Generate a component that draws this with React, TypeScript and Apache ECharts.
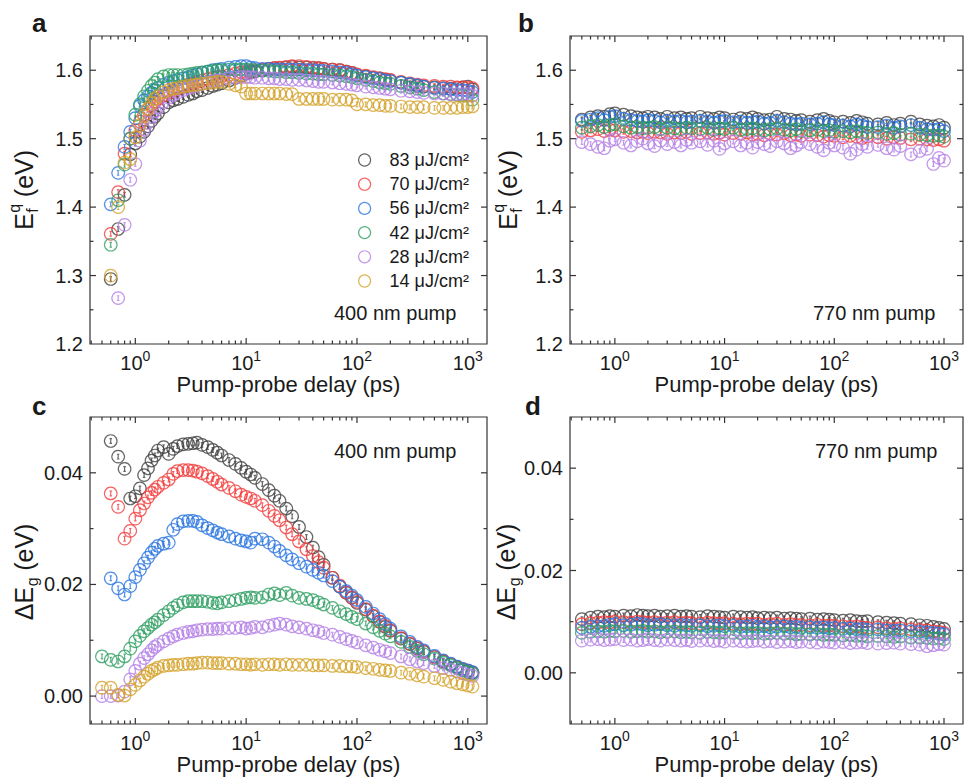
import React, { useEffect, useRef } from "react";
import * as echarts from "echarts";

const FONT = "'Liberation Sans', Arial, Helvetica, sans-serif";
const AXIS_COLOR = "#333333";
const TEXT_COLOR = "#1a1a1a";

const FLUENCES = ["83 μJ/cm²", "70 μJ/cm²", "56 μJ/cm²", "42 μJ/cm²", "28 μJ/cm²", "14 μJ/cm²"];
const COLORS = ["#404040", "#f23d3d", "#2b76e0", "#2f9f63", "#b47fe6", "#d4a22a"];

// pump-probe delays (ps), 400 nm pump (panels a, c)
const DELAY_400 = [0.5, 0.6, 0.7, 0.8, 0.9, 1.0, 1.1, 1.2, 1.3, 1.4, 1.5, 1.6, 1.8, 2.0, 2.2, 2.4, 2.7, 3.0, 3.3, 3.6, 4.0, 4.5, 5, 5.5, 6, 7, 8, 9, 10, 11, 12, 14, 16, 18, 20, 23, 26, 30, 35, 40, 45, 50, 60, 70, 80, 90, 100, 120, 140, 160, 180, 200, 250, 300, 350, 400, 500, 600, 700, 800, 900, 1000, 1100];

// panel a: E_f^q (eV), 400 nm pump
const EF400_83 = [null, 1.295, 1.368, 1.418, 1.477, 1.493, 1.503, 1.51, 1.518, 1.526, 1.532, 1.537, 1.546, 1.553, 1.556, 1.558, 1.561, 1.564, 1.566, 1.569, 1.571, 1.574, 1.577, 1.579, 1.581, 1.585, 1.589, 1.592, 1.595, 1.597, 1.598, 1.6, 1.602, 1.603, 1.603, 1.604, 1.605, 1.604, 1.604, 1.603, 1.603, 1.602, 1.601, 1.6, 1.598, 1.596, 1.593, 1.591, 1.589, 1.588, 1.586, 1.585, 1.582, 1.579, 1.577, 1.576, 1.575, 1.574, 1.573, 1.574, 1.575, 1.576, 1.572];
const EF400_70 = [null, 1.361, 1.422, 1.478, 1.5, 1.512, 1.525, 1.535, 1.543, 1.549, 1.554, 1.558, 1.563, 1.567, 1.57, 1.573, 1.576, 1.579, 1.581, 1.583, 1.585, 1.587, 1.589, 1.59, 1.591, 1.593, 1.595, 1.597, 1.598, 1.599, 1.6, 1.601, 1.602, 1.603, 1.604, 1.605, 1.606, 1.606, 1.605, 1.604, 1.603, 1.602, 1.601, 1.6, 1.598, 1.596, 1.594, 1.592, 1.59, 1.588, 1.587, 1.586, 1.583, 1.581, 1.579, 1.578, 1.577, 1.576, 1.576, 1.575, 1.575, 1.575, 1.574];
const EF400_56 = [null, 1.404, 1.45, 1.488, 1.51, 1.53, 1.548, 1.556, 1.562, 1.567, 1.571, 1.574, 1.579, 1.582, 1.584, 1.586, 1.588, 1.59, 1.592, 1.594, 1.596, 1.598, 1.6, 1.601, 1.602, 1.604, 1.605, 1.606, 1.606, 1.604, 1.603, 1.602, 1.602, 1.601, 1.601, 1.601, 1.601, 1.601, 1.6, 1.6, 1.599, 1.599, 1.598, 1.597, 1.596, 1.594, 1.592, 1.59, 1.588, 1.587, 1.585, 1.584, 1.582, 1.58, 1.578, 1.576, 1.574, 1.573, 1.572, 1.571, 1.571, 1.57, 1.568];
const EF400_42 = [null, 1.345, 1.41, 1.462, 1.5, 1.535, 1.55, 1.562, 1.57, 1.577, 1.582, 1.587, 1.591, 1.593, 1.593, 1.593, 1.593, 1.594, 1.595, 1.596, 1.597, 1.598, 1.599, 1.6, 1.6, 1.601, 1.601, 1.601, 1.601, 1.6, 1.6, 1.599, 1.599, 1.598, 1.598, 1.597, 1.597, 1.596, 1.595, 1.595, 1.594, 1.594, 1.593, 1.592, 1.591, 1.59, 1.588, 1.586, 1.584, 1.582, 1.581, 1.58, 1.577, 1.575, 1.573, 1.571, 1.568, 1.566, 1.565, 1.564, 1.563, 1.563, 1.557];
const EF400_28 = [null, null, 1.267, 1.374, 1.44, 1.463, 1.497, 1.513, 1.523, 1.532, 1.54, 1.546, 1.554, 1.56, 1.564, 1.567, 1.571, 1.574, 1.576, 1.578, 1.58, 1.582, 1.584, 1.585, 1.586, 1.588, 1.589, 1.59, 1.59, 1.59, 1.589, 1.589, 1.588, 1.588, 1.587, 1.587, 1.586, 1.586, 1.585, 1.584, 1.583, 1.583, 1.582, 1.581, 1.58, 1.579, 1.578, 1.576, 1.575, 1.574, 1.573, 1.572, 1.57, 1.569, 1.568, 1.567, 1.566, 1.566, 1.565, 1.565, 1.565, 1.565, 1.563];
const EF400_14 = [null, 1.3, 1.4, 1.465, 1.47, 1.502, 1.52, 1.533, 1.544, 1.552, 1.558, 1.562, 1.568, 1.571, 1.573, 1.574, 1.576, 1.577, 1.578, 1.579, 1.58, 1.581, 1.582, 1.583, 1.583, 1.58, 1.578, 1.576, 1.566, 1.566, 1.566, 1.566, 1.566, 1.566, 1.566, 1.565, 1.565, 1.558, 1.558, 1.558, 1.558, 1.558, 1.557, 1.557, 1.557, 1.556, 1.55, 1.55, 1.549, 1.549, 1.548, 1.548, 1.547, 1.546, 1.546, 1.546, 1.545, 1.545, 1.545, 1.545, 1.546, 1.546, 1.547];

// panel c: ΔE_g (eV), 400 nm pump
const DEG400_83 = [null, 0.0457, 0.0429, 0.0407, 0.0354, 0.0358, 0.0372, 0.0396, 0.0408, 0.0422, 0.0431, 0.044, 0.0446, 0.0434, 0.0443, 0.0448, 0.0451, 0.0452, 0.0453, 0.0454, 0.045, 0.0446, 0.0441, 0.0436, 0.0431, 0.0423, 0.0416, 0.0409, 0.0402, 0.0397, 0.0391, 0.038, 0.0369, 0.0359, 0.035, 0.0336, 0.0322, 0.0303, 0.0285, 0.0266, 0.0249, 0.0235, 0.0212, 0.0196, 0.0185, 0.0176, 0.0167, 0.0155, 0.0143, 0.0133, 0.0124, 0.0117, 0.0103, 0.0093, 0.0085, 0.0079, 0.007, 0.0062, 0.0057, 0.0052, 0.0048, 0.0045, 0.0042];
const DEG400_70 = [null, 0.0363, 0.0339, 0.0282, 0.0296, 0.0318, 0.0333, 0.0345, 0.0356, 0.0364, 0.037, 0.0375, 0.0382, 0.0388, 0.0398, 0.0403, 0.0405, 0.0405, 0.0404, 0.0402, 0.0399, 0.0394, 0.0389, 0.0384, 0.0379, 0.0373, 0.0367, 0.0361, 0.0357, 0.0354, 0.035, 0.0342, 0.0332, 0.0323, 0.0315, 0.0302, 0.029, 0.0277, 0.0263, 0.0251, 0.024, 0.023, 0.0212, 0.0198, 0.0186, 0.0177, 0.0169, 0.0156, 0.0144, 0.0134, 0.0126, 0.0118, 0.0104, 0.0094, 0.0086, 0.008, 0.007, 0.0063, 0.0057, 0.0052, 0.0048, 0.0045, 0.0042];
const DEG400_56 = [null, 0.0211, 0.0193, 0.0182, 0.0197, 0.0213, 0.0226, 0.0238, 0.0248, 0.0257, 0.0264, 0.0269, 0.0273, 0.0275, 0.0298, 0.0308, 0.0313, 0.0314, 0.0314, 0.0312, 0.0306, 0.0301, 0.0297, 0.0293, 0.029, 0.0286, 0.0282, 0.0279, 0.0277, 0.0275, 0.0282, 0.0281, 0.0275, 0.0268, 0.026, 0.0252, 0.0245, 0.0238, 0.0232, 0.0226, 0.0221, 0.0216, 0.0206, 0.0196, 0.0188, 0.018, 0.0172, 0.016, 0.0148, 0.0138, 0.0129, 0.0121, 0.0107, 0.0097, 0.0088, 0.0082, 0.0072, 0.0064, 0.0058, 0.0053, 0.0049, 0.0046, 0.0043];
const DEG400_42 = [0.0071, 0.0065, 0.0062, 0.0071, 0.0085, 0.0098, 0.0108, 0.0116, 0.0122, 0.0128, 0.0132, 0.0137, 0.0145, 0.0152, 0.0158, 0.0163, 0.0168, 0.017, 0.017, 0.017, 0.017, 0.0169, 0.0167, 0.0166, 0.0168, 0.017, 0.0172, 0.0174, 0.0176, 0.0177, 0.0176, 0.0177, 0.0182, 0.0184, 0.0181, 0.0185, 0.018, 0.0176, 0.0174, 0.0172, 0.0168, 0.0164, 0.0158, 0.0152, 0.0147, 0.0142, 0.0138, 0.013, 0.0123, 0.0117, 0.0112, 0.0107, 0.0097, 0.0088, 0.0081, 0.0075, 0.0067, 0.006, 0.0055, 0.005, 0.0046, 0.0043, 0.004];
const DEG400_28 = [0.0, 0.0, 0.0001, 0.0008, 0.003, 0.0045, 0.0058, 0.0068, 0.0075, 0.0082, 0.0088, 0.0092, 0.0098, 0.0103, 0.0107, 0.011, 0.0113, 0.0115, 0.0116, 0.0118, 0.0119, 0.012, 0.012, 0.0121, 0.0121, 0.0122, 0.0122, 0.0123, 0.0121, 0.0122, 0.0124, 0.0123, 0.0126, 0.0128, 0.013, 0.0128, 0.0125, 0.0123, 0.0121, 0.0118, 0.0116, 0.0113, 0.011, 0.0106, 0.0102, 0.0099, 0.0096, 0.0091, 0.0087, 0.0083, 0.008, 0.0077, 0.0071, 0.0066, 0.0062, 0.0059, 0.0054, 0.005, 0.0047, 0.0044, 0.0041, 0.0038, 0.0036];
const DEG400_14 = [0.0015, 0.0015, 0.0002, 0.0001, 0.0012, 0.002, 0.0028, 0.0035, 0.004, 0.0045, 0.0048, 0.0051, 0.0054, 0.0055, 0.0056, 0.0056, 0.0057, 0.0058, 0.0058, 0.0059, 0.006, 0.006, 0.0059, 0.0059, 0.0059, 0.0058, 0.0058, 0.0057, 0.0057, 0.0056, 0.0057, 0.0056, 0.0057, 0.0057, 0.0056, 0.0057, 0.0056, 0.0056, 0.0056, 0.0055, 0.0055, 0.0055, 0.0054, 0.0054, 0.0053, 0.0053, 0.0052, 0.005, 0.0049, 0.0047, 0.0046, 0.0045, 0.0042, 0.004, 0.0037, 0.0035, 0.0032, 0.0029, 0.0026, 0.0023, 0.0021, 0.0019, 0.0017];

// pump-probe delays (ps), 770 nm pump (panels b, d)
const DELAY_770 = [0.5, 0.6, 0.7, 0.8, 0.9, 1.0, 1.2, 1.4, 1.6, 1.8, 2, 2.3, 2.6, 3, 3.5, 4, 4.5, 5, 6, 7, 8, 9, 10, 12, 14, 16, 18, 20, 23, 26, 30, 35, 40, 45, 50, 60, 70, 80, 90, 100, 120, 140, 160, 180, 200, 250, 300, 350, 400, 500, 600, 700, 800, 900, 1000];

// panel b: E_f^q (eV), 770 nm pump
const EF770_83 = [1.528, 1.531, 1.533, 1.532, 1.536, 1.537, 1.535, 1.533, 1.531, 1.53, 1.532, 1.531, 1.529, 1.532, 1.53, 1.531, 1.529, 1.53, 1.532, 1.53, 1.529, 1.531, 1.53, 1.528, 1.53, 1.529, 1.531, 1.529, 1.527, 1.528, 1.532, 1.529, 1.528, 1.526, 1.527, 1.525, 1.527, 1.529, 1.526, 1.524, 1.525, 1.523, 1.526, 1.524, 1.522, 1.521, 1.523, 1.52, 1.522, 1.525, 1.521, 1.519, 1.518, 1.52, 1.516];
const EF770_70 = [1.51, 1.512, 1.514, 1.511, 1.513, 1.512, 1.51, 1.511, 1.509, 1.51, 1.508, 1.51, 1.509, 1.507, 1.509, 1.508, 1.51, 1.507, 1.508, 1.509, 1.507, 1.508, 1.506, 1.508, 1.507, 1.509, 1.506, 1.507, 1.505, 1.507, 1.506, 1.508, 1.505, 1.506, 1.504, 1.506, 1.505, 1.503, 1.505, 1.504, 1.502, 1.504, 1.503, 1.501, 1.503, 1.502, 1.5, 1.502, 1.501, 1.499, 1.5, 1.499, 1.498, 1.499, 1.497];
const EF770_56 = [1.526, 1.528, 1.53, 1.527, 1.532, 1.533, 1.529, 1.527, 1.526, 1.525, 1.527, 1.526, 1.524, 1.526, 1.525, 1.526, 1.524, 1.525, 1.526, 1.525, 1.523, 1.525, 1.526, 1.524, 1.525, 1.523, 1.524, 1.525, 1.522, 1.523, 1.526, 1.524, 1.522, 1.521, 1.522, 1.521, 1.522, 1.524, 1.521, 1.52, 1.519, 1.518, 1.521, 1.519, 1.517, 1.517, 1.519, 1.516, 1.518, 1.52, 1.516, 1.514, 1.513, 1.514, 1.511];
const EF770_42 = [1.516, 1.518, 1.52, 1.517, 1.52, 1.521, 1.518, 1.516, 1.517, 1.515, 1.516, 1.517, 1.514, 1.516, 1.515, 1.514, 1.516, 1.515, 1.514, 1.516, 1.513, 1.515, 1.514, 1.516, 1.513, 1.514, 1.515, 1.513, 1.512, 1.514, 1.515, 1.513, 1.512, 1.514, 1.511, 1.512, 1.513, 1.511, 1.512, 1.51, 1.511, 1.509, 1.511, 1.509, 1.508, 1.509, 1.507, 1.508, 1.506, 1.507, 1.506, 1.505, 1.504, 1.505, 1.503];
const EF770_28 = [1.495, 1.492, 1.488, 1.486, 1.497, 1.499, 1.494, 1.49, 1.496, 1.5, 1.493, 1.489, 1.497, 1.492, 1.495, 1.49, 1.498, 1.494, 1.496, 1.491, 1.497, 1.485, 1.493, 1.496, 1.49, 1.494, 1.487, 1.495, 1.492, 1.489, 1.496, 1.493, 1.486, 1.49, 1.495, 1.492, 1.488, 1.483, 1.494, 1.49, 1.487, 1.478, 1.484, 1.492, 1.488, 1.491, 1.486, 1.484, 1.489, 1.477, 1.482, 1.485, 1.463, 1.472, 1.468];

// panel d: ΔE_g (eV), 770 nm pump
const DEG770_83 = [0.0105, 0.0108, 0.011, 0.0109, 0.0111, 0.011, 0.0112, 0.0111, 0.0113, 0.0112, 0.0111, 0.0112, 0.011, 0.0111, 0.0112, 0.011, 0.0111, 0.011, 0.0109, 0.0111, 0.011, 0.0109, 0.0108, 0.011, 0.0109, 0.0108, 0.0109, 0.0107, 0.0108, 0.0107, 0.0108, 0.0106, 0.0107, 0.0106, 0.0105, 0.0106, 0.0104, 0.0105, 0.0104, 0.0103, 0.0102, 0.0103, 0.0101, 0.01, 0.0101, 0.0099, 0.0098, 0.0097, 0.0096, 0.0095, 0.0093, 0.0092, 0.009, 0.0088, 0.0086];
const DEG770_70 = [0.0095, 0.0097, 0.0098, 0.0099, 0.0098, 0.01, 0.0099, 0.0098, 0.01, 0.0099, 0.0098, 0.0099, 0.0097, 0.0098, 0.0099, 0.0097, 0.0098, 0.0097, 0.0096, 0.0098, 0.0097, 0.0096, 0.0097, 0.0096, 0.0095, 0.0096, 0.0095, 0.0096, 0.0094, 0.0095, 0.0096, 0.0094, 0.0095, 0.0093, 0.0094, 0.0093, 0.0094, 0.0092, 0.0093, 0.0092, 0.0091, 0.009, 0.0091, 0.0089, 0.0088, 0.0089, 0.0087, 0.0086, 0.0087, 0.0085, 0.0084, 0.0083, 0.0081, 0.008, 0.0078];
const DEG770_56 = [0.0088, 0.009, 0.0091, 0.0092, 0.0094, 0.0095, 0.0093, 0.0094, 0.0096, 0.0095, 0.0093, 0.0094, 0.0095, 0.0093, 0.0092, 0.0094, 0.0093, 0.0092, 0.0093, 0.0091, 0.0092, 0.0093, 0.0091, 0.0092, 0.009, 0.0091, 0.0092, 0.009, 0.0091, 0.0089, 0.009, 0.0091, 0.0089, 0.009, 0.0088, 0.0089, 0.0088, 0.0089, 0.0087, 0.0088, 0.0086, 0.0087, 0.0085, 0.0086, 0.0084, 0.0085, 0.0083, 0.0082, 0.0083, 0.0081, 0.008, 0.0079, 0.0078, 0.0077, 0.0075];
const DEG770_42 = [0.0078, 0.008, 0.0081, 0.008, 0.0082, 0.0081, 0.0082, 0.008, 0.0081, 0.0082, 0.008, 0.0081, 0.0079, 0.008, 0.0081, 0.0079, 0.008, 0.0079, 0.0078, 0.008, 0.0079, 0.0078, 0.0079, 0.0078, 0.0077, 0.0078, 0.0077, 0.0078, 0.0076, 0.0077, 0.0078, 0.0076, 0.0077, 0.0075, 0.0076, 0.0075, 0.0076, 0.0074, 0.0075, 0.0074, 0.0073, 0.0074, 0.0072, 0.0073, 0.0071, 0.0072, 0.0071, 0.007, 0.0071, 0.0069, 0.0069, 0.0068, 0.0067, 0.0068, 0.0066];
const DEG770_28 = [0.0063, 0.0065, 0.0066, 0.0064, 0.0065, 0.0066, 0.0064, 0.0065, 0.0063, 0.0064, 0.0066, 0.0064, 0.0063, 0.0065, 0.0064, 0.0063, 0.0064, 0.0062, 0.0063, 0.0064, 0.0062, 0.0063, 0.0061, 0.0063, 0.0062, 0.0061, 0.0062, 0.0063, 0.0061, 0.0062, 0.006, 0.0061, 0.0062, 0.006, 0.0061, 0.006, 0.0059, 0.0061, 0.006, 0.0059, 0.006, 0.0058, 0.0059, 0.006, 0.0058, 0.0057, 0.0058, 0.0059, 0.0057, 0.0056, 0.0055, 0.0052, 0.0054, 0.0056, 0.0055];

// axis ticks
const X_MAJOR = [1, 10, 100, 1000];
const X_MINOR = [0.4, 0.5, 0.6, 0.7, 0.8, 0.9, 2, 3, 4, 5, 6, 7, 8, 9, 20, 30, 40, 50, 60, 70, 80, 90, 200, 300, 400, 500, 600, 700, 800, 900];
const EF_MAJOR = [1.3, 1.4, 1.5, 1.6];
const EF_MINOR = [1.25, 1.35, 1.45, 1.55];
const DEG_MAJOR = [0, 0.02, 0.04];
const DEG_MINOR = [0.01, 0.03];

const X_MIN = 0.39;
const X_MAX = 1490;

// hollow circle with a small error bar inside (Origin style marker)
const MARKER = "path://M12,2A10,10,0,1,1,11.99,2ZM12,8.2L12,15.8M10,8.2L14,8.2M10,15.8L14,15.8";

function zip(xs: number[], ys: (number | null)[]) {
  const out: number[][] = [];
  xs.forEach((x, i) => {
    if (ys[i] !== null && ys[i] !== undefined) out.push([x, ys[i] as number]);
  });
  return out;
}

function xAxisCfg(gi: number) {
  return {
    type: "log",
    logBase: 10,
    gridIndex: gi,
    min: X_MIN,
    max: X_MAX,
    axisLine: { show: false },
    axisTick: { show: false },
    splitLine: { show: false },
    minorTick: { show: false },
    axisLabel: {
      margin: 5,
      formatter: (v: number) => {
        const e = Math.log10(v);
        const r = Math.round(e);
        return Math.abs(e - r) < 1e-4 ? `{b|10}{s|${r}}` : "";
      },
      rich: {
        b: { fontSize: 20, fontFamily: FONT, color: TEXT_COLOR, verticalAlign: "bottom", lineHeight: 24 },
        s: { fontSize: 14, fontFamily: FONT, color: TEXT_COLOR, verticalAlign: "top", lineHeight: 14 },
      },
    },
    name: "Pump-probe delay (ps)",
    nameLocation: "middle",
    nameGap: 29,
    nameTextStyle: { fontSize: 22, fontFamily: FONT, color: TEXT_COLOR },
  };
}

function yAxisCfg(gi: number, min: number, max: number, interval: number, step: number, digits: number) {
  return {
    type: "value",
    gridIndex: gi,
    min,
    max,
    interval,
    axisLine: { show: false },
    axisTick: { show: false },
    splitLine: { show: false },
    axisLabel: {
      margin: 7,
      fontSize: 20,
      fontFamily: FONT,
      color: TEXT_COLOR,
      formatter: (v: number) => {
        const k = v / step;
        if (Math.abs(k - Math.round(k)) > 1e-6) return "";
        if (Math.abs(v) < 1e-9) return (0).toFixed(digits);
        return v.toFixed(digits);
      },
    },
  };
}

function tickSeries(gi: number, yRef: number, yMajor: number[], yMinor: number[]) {
  const data: number[][] = [
    ...X_MAJOR.map((v) => [v, yRef, 0]),
    ...X_MINOR.map((v) => [v, yRef, 1]),
    ...yMajor.map((v) => [1, v, 2]),
    ...yMinor.map((v) => [1, v, 3]),
  ];
  return {
    type: "custom",
    name: "ticks" + gi,
    xAxisIndex: gi,
    yAxisIndex: gi,
    silent: true,
    z: 10,
    data,
    renderItem: (params: any, api: any) => {
      const cs = params.coordSys;
      const k = api.value(2);
      const p = api.coord([api.value(0), api.value(1)]);
      const st = { stroke: AXIS_COLOR, lineWidth: 1.2 };
      if (k <= 1) {
        const len = k === 0 ? 6 : 3.5;
        const yb = cs.y + cs.height;
        const yt = cs.y;
        return {
          type: "group",
          children: [
            { type: "line", shape: { x1: p[0], y1: yb, x2: p[0], y2: yb - len }, style: st },
            { type: "line", shape: { x1: p[0], y1: yt, x2: p[0], y2: yt + len }, style: st },
          ],
        };
      }
      const len = k === 2 ? 6 : 3.5;
      const xl = cs.x;
      const xr = cs.x + cs.width;
      return {
        type: "group",
        children: [
          { type: "line", shape: { x1: xl, y1: p[1], x2: xl + len, y2: p[1] }, style: st },
          { type: "line", shape: { x1: xr, y1: p[1], x2: xr - len, y2: p[1] }, style: st },
        ],
      };
    },
  };
}

function scatter(gi: number, idx: number, xs: number[], ys: (number | null)[]) {
  return {
    type: "scatter",
    name: FLUENCES[idx],
    xAxisIndex: gi,
    yAxisIndex: gi,
    symbol: MARKER,
    symbolSize: 12.5,
    itemStyle: { color: "rgba(0,0,0,0)", borderColor: COLORS[idx], borderWidth: 1.2 },
    emphasis: { disabled: true },
    data: zip(xs, ys),
  };
}

function txt(text: string, x: number, y: number, font: string, align = "left", vAlign = "middle") {
  return {
    type: "text",
    x,
    y,
    style: {
      text,
      font,
      fill: TEXT_COLOR,
      align,
      textAlign: align,
      verticalAlign: vAlign,
      textVerticalAlign: vAlign,
    },
  };
}

function yTitle(cx: number, cy: number, main: string, mainW: number, sup: string | null, sub: string) {
  const big = `25px ${FONT}`;
  const small = `16px ${FONT}`;
  const total = mainW + 10 + 6 + 47;
  const start = -total / 2;
  const children: any[] = [txt(main, start, 0, big), txt(sub, start + mainW + 0.5, 8, small)];
  if (sup) children.push(txt(sup, start + mainW + 0.5, -10, small));
  children.push(txt("(eV)", start + mainW + 16, 0, big));
  return { type: "group", x: cx, y: cy, rotation: Math.PI / 2, children };
}

export default function App() {
  const ref = useRef<HTMLDivElement>(null);
  useEffect(() => {
    if (!ref.current) return;
    const chart = echarts.init(ref.current, null, { renderer: "svg" });
    const gridStyle = { show: true, borderColor: AXIS_COLOR, borderWidth: 1.2, backgroundColor: "transparent" };
    const series: any[] = [];
    const ef400 = [EF400_83, EF400_70, EF400_56, EF400_42, EF400_28, EF400_14];
    const deg400 = [DEG400_83, DEG400_70, DEG400_56, DEG400_42, DEG400_28, DEG400_14];
    const ef770 = [EF770_83, EF770_70, EF770_56, EF770_42, EF770_28];
    const deg770 = [DEG770_83, DEG770_70, DEG770_56, DEG770_42, DEG770_28];
    ef400.forEach((ys, i) => series.push(scatter(0, i, DELAY_400, ys)));
    ef770.forEach((ys, i) => series.push(scatter(1, i, DELAY_770, ys)));
    deg400.forEach((ys, i) => series.push(scatter(2, i, DELAY_400, ys)));
    deg770.forEach((ys, i) => series.push(scatter(3, i, DELAY_770, ys)));
    series.push(tickSeries(0, 1.3, EF_MAJOR, EF_MINOR));
    series.push(tickSeries(1, 1.3, EF_MAJOR, EF_MINOR));
    series.push(tickSeries(2, 0.01, DEG_MAJOR, DEG_MINOR));
    series.push(tickSeries(3, 0.01, DEG_MAJOR, DEG_MINOR));

    const option: any = {
      animation: false,
      backgroundColor: "#ffffff",
      grid: [
        { left: 90, top: 36, width: 397, height: 308, ...gridStyle },
        { left: 570, top: 36, width: 398, height: 308, ...gridStyle },
        { left: 90, top: 417, width: 397, height: 307, ...gridStyle },
        { left: 570, top: 417, width: 398, height: 307, ...gridStyle },
      ],
      xAxis: [xAxisCfg(0), xAxisCfg(1), xAxisCfg(2), xAxisCfg(3)],
      yAxis: [
        yAxisCfg(0, 1.2, 1.65, 0.1, 0.1, 1),
        yAxisCfg(1, 1.2, 1.65, 0.1, 0.1, 1),
        yAxisCfg(2, -0.005, 0.05, 0.005, 0.02, 2),
        yAxisCfg(3, -0.01, 0.05, 0.01, 0.02, 2),
      ],
      legend: {
        orient: "vertical",
        left: 353,
        top: 145,
        itemWidth: 40,
        itemHeight: 12,
        itemGap: 4.2,
        selectedMode: false,
        textStyle: { fontSize: 18, lineHeight: 20, fontFamily: FONT, color: TEXT_COLOR },
        data: FLUENCES.map((n, i) => ({
          name: n,
          icon: "circle",
          itemStyle: { color: "rgba(0,0,0,0)", borderColor: COLORS[i], borderWidth: 1.2 },
        })),
      },
      graphic: [
        txt("a", 32, 23, `bold 26px ${FONT}`),
        txt("b", 518, 23, `bold 26px ${FONT}`),
        txt("c", 32, 406, `bold 26px ${FONT}`),
        txt("d", 525, 406, `bold 26px ${FONT}`),
        txt("400 nm pump", 334, 313, `20px ${FONT}`),
        txt("770 nm pump", 813, 313, `20px ${FONT}`),
        txt("400 nm pump", 334, 451, `20px ${FONT}`),
        txt("770 nm pump", 815, 451, `20px ${FONT}`),
        yTitle(24, 190, "E", 16.7, "q", "f"),
        yTitle(508, 190, "E", 16.7, "q", "f"),
        yTitle(24, 572, "ΔE", 33.4, null, "g"),
        yTitle(506, 572, "ΔE", 33.4, null, "g"),
      ],
      series,
    };
    chart.setOption(option);
    return () => chart.dispose();
  }, []);
  return <div ref={ref} style={{ position: "absolute", left: 0, top: 0, width: 966, height: 779 }} />;
}
